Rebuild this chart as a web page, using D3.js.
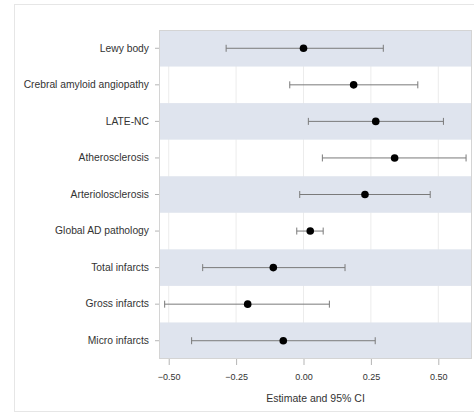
<!DOCTYPE html>
<html>
<head>
<meta charset="utf-8">
<script src="https://cdn.jsdelivr.net/npm/d3@7"></script>
<style>
  body { margin: 0; background: #fff; }
  svg { display: block; font-family: "Liberation Sans", Arial, sans-serif; }
</style>
</head>
<body>
<div id="chart"></div>
<script>
// Data
const outcomes = ["Lewy body", "Crebral amyloid angiopathy", "LATE-NC", "Atherosclerosis",
  "Arteriolosclerosis", "Global AD pathology", "Total infarcts", "Gross infarcts", "Micro infarcts"];
const estimates = [0.00, 0.186, 0.268, 0.338, 0.228, 0.025, -0.112, -0.207, -0.075];
const lower = [-0.287, -0.051, 0.018, 0.070, -0.014, -0.025, -0.374, -0.515, -0.415];
const upper = [0.296, 0.424, 0.519, 0.603, 0.470, 0.073, 0.154, 0.096, 0.266];
const xTicks = [-0.50, -0.25, 0.00, 0.25, 0.50];

const data = outcomes.map((d, i) => ({ name: d, est: estimates[i], lo: lower[i], hi: upper[i], i: i }));

const W = 474, H = 413;
const margin = { top: 30, right: 2, bottom: 54, left: 159 };
const width = W - margin.left - margin.right;
const height = H - margin.top - margin.bottom;

const svg = d3.select("#chart").append("svg")
  .attr("width", W)
  .attr("height", H);

// Outer frame
svg.append("rect")
  .attr("x", 14.5).attr("y", 4.5)
  .attr("width", W + 10).attr("height", 407)
  .attr("fill", "none")
  .attr("stroke", "#e6e6e6");

const g = svg.append("g")
  .attr("transform", "translate(" + margin.left + "," + margin.top + ")");

const x = d3.scaleLinear().domain([-0.536, 0.625]).range([0, width]);
const y = d3.scaleBand().domain(outcomes).range([0, height]);

// Vertical grid lines
g.append("g")
  .selectAll("line")
  .data(xTicks)
  .enter()
  .append("line")
  .attr("x1", d => x(d)).attr("x2", d => x(d))
  .attr("y1", 0).attr("y2", height)
  .attr("stroke", "#ececec");

// Alternating bands
g.append("g")
  .selectAll("rect")
  .data(data.filter(d => d.i % 2 === 0))
  .enter()
  .append("rect")
  .attr("x", 0)
  .attr("y", d => y(d.name))
  .attr("width", width)
  .attr("height", y.bandwidth())
  .attr("fill", "#dfe4ee");

// Plot border
g.append("rect")
  .attr("x", 0.5).attr("y", 0.5)
  .attr("width", width - 1).attr("height", height - 1)
  .attr("fill", "none")
  .attr("stroke", "#d4d4d4");

// CI lines
const cy = d => y(d.name) + y.bandwidth() / 2;
const ci = g.append("g").attr("stroke", "#7a7a7a").attr("stroke-width", 1);
ci.selectAll(".ci")
  .data(data)
  .enter()
  .append("line")
  .attr("x1", d => x(d.lo)).attr("x2", d => x(d.hi))
  .attr("y1", cy).attr("y2", cy);
ci.selectAll(".capl")
  .data(data)
  .enter()
  .append("line")
  .attr("x1", d => x(d.lo)).attr("x2", d => x(d.lo))
  .attr("y1", d => cy(d) - 3.5).attr("y2", d => cy(d) + 3.5);
ci.selectAll(".caph")
  .data(data)
  .enter()
  .append("line")
  .attr("x1", d => x(d.hi)).attr("x2", d => x(d.hi))
  .attr("y1", d => cy(d) - 3.5).attr("y2", d => cy(d) + 3.5);

// Point estimates
g.append("g")
  .selectAll("circle")
  .data(data)
  .enter()
  .append("circle")
  .attr("cx", d => x(d.est))
  .attr("cy", cy)
  .attr("r", 3.8)
  .attr("fill", "#000");

// Axes
const xAxis = g.append("g")
  .attr("transform", "translate(0," + height + ")")
  .call(d3.axisBottom(x).tickValues(xTicks).tickFormat(d3.format(".2f")).tickSize(6).tickPadding(9));
const yAxis = g.append("g")
  .call(d3.axisLeft(y).tickSize(4).tickPadding(6));

[xAxis, yAxis].forEach(a => {
  a.select(".domain").remove();
  a.selectAll(".tick line").attr("stroke", "#b5b5b5");
  a.selectAll(".tick text").attr("fill", "#333").style("font-size", "10.3px");
});
xAxis.selectAll(".tick text").style("font-size", "9px");

// Axis title
g.append("text")
  .attr("x", width / 2)
  .attr("y", height + 43)
  .attr("text-anchor", "middle")
  .attr("fill", "#333")
  .style("font-size", "10.5px")
  .text("Estimate and 95% CI");
</script>
</body>
</html>
